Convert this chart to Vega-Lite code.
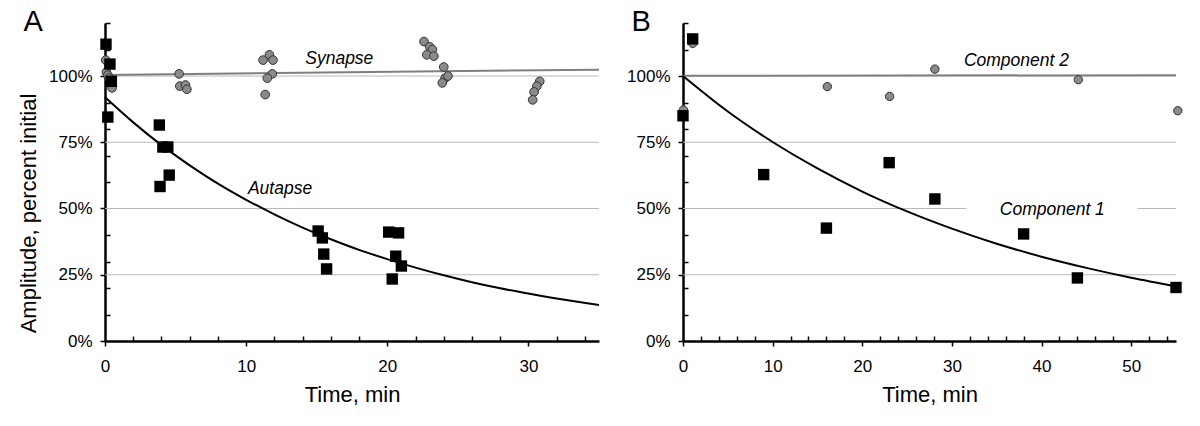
{
  "$schema": "https://vega.github.io/schema/vega-lite/v6.json",
  "background": "white",
  "padding": {"left": 17, "top": 8, "right": 20, "bottom": 10},
  "spacing": 23,
  "config": {
    "view": {"stroke": null},
    "font": "Liberation Sans",
    "axis": {
      "domainColor": "black", "domainWidth": 2.5, "tickColor": "black", "tickWidth": 1.5,
      "labelColor": "black", "titleColor": "black", "labelFont": "Liberation Sans", "titleFont": "Liberation Sans",
      "labelFontSize": 17, "titleFontSize": 22, "titleFontWeight": "normal",
      "labelOverlap": false, "labelFlush": false, "labelBound": false, "grid": false
    },
    "title": {"font": "Liberation Sans", "fontSize": 29, "fontWeight": "normal", "color": "black", "anchor": "start", "frame": "bounds", "baseline": "alphabetic", "offset": -23}
  },
  "datasets": {
    "aSyn": [
      {"t": 0.05, "amp": 106}, {"t": 0.1, "amp": 101.5}, {"t": 0.2, "amp": 100.3}, {"t": 0.3, "amp": 99.2}, {"t": 0.4, "amp": 97.7}, {"t": 0.5, "amp": 95.5},
      {"t": 5.25, "amp": 100.8}, {"t": 5.3, "amp": 96.2}, {"t": 5.7, "amp": 96.6}, {"t": 5.8, "amp": 95},
      {"t": 11.2, "amp": 106}, {"t": 11.65, "amp": 108}, {"t": 11.9, "amp": 106}, {"t": 11.85, "amp": 100.8}, {"t": 11.5, "amp": 99.2}, {"t": 11.35, "amp": 93},
      {"t": 22.6, "amp": 113}, {"t": 23.0, "amp": 111}, {"t": 23.2, "amp": 110}, {"t": 22.8, "amp": 108}, {"t": 23.3, "amp": 107.5},
      {"t": 24.0, "amp": 103.4}, {"t": 24.1, "amp": 99.2}, {"t": 24.3, "amp": 100}, {"t": 23.9, "amp": 97.4},
      {"t": 30.8, "amp": 98}, {"t": 30.6, "amp": 96.2}, {"t": 30.4, "amp": 94}, {"t": 30.3, "amp": 91}
    ],
    "aAut": [
      {"t": 0.07, "amp": 112}, {"t": 0.35, "amp": 104.5}, {"t": 0.45, "amp": 98}, {"t": 0.2, "amp": 84.5},
      {"t": 3.85, "amp": 81.5}, {"t": 4.1, "amp": 73.2}, {"t": 4.45, "amp": 73.2}, {"t": 4.55, "amp": 62.6}, {"t": 3.9, "amp": 58.3},
      {"t": 15.1, "amp": 41.5}, {"t": 15.4, "amp": 38.9}, {"t": 15.5, "amp": 32.8}, {"t": 15.7, "amp": 27.2},
      {"t": 20.1, "amp": 41.1}, {"t": 20.8, "amp": 40.8}, {"t": 20.6, "amp": 32}, {"t": 21.0, "amp": 28.3}, {"t": 20.35, "amp": 23.4}
    ],
    "aSynFit": [{"t": 0, "amp": 100.4}, {"t": 35, "amp": 102.4}],
    "aAutFit": [
      {"t": 0, "amp": 92}, {"t": 2, "amp": 82.5}, {"t": 4, "amp": 73.9}, {"t": 6, "amp": 66.3}, {"t": 8, "amp": 59.4},
      {"t": 10, "amp": 53.3}, {"t": 12, "amp": 47.8}, {"t": 14, "amp": 42.8}, {"t": 16, "amp": 38.4}, {"t": 18, "amp": 34.4},
      {"t": 20, "amp": 30.9}, {"t": 22, "amp": 27.7}, {"t": 24, "amp": 24.8}, {"t": 26, "amp": 22.2}, {"t": 28, "amp": 19.9},
      {"t": 30, "amp": 17.9}, {"t": 32, "amp": 16.0}, {"t": 35, "amp": 13.6}
    ],
    "aGrid": [
      {"t": 0, "t2": 35, "amp": 25}, {"t": 0, "t2": 35, "amp": 50}, {"t": 0, "t2": 35, "amp": 75}, {"t": 0, "t2": 35, "amp": 100}
    ],
    "aText": [
      {"t": 16.6, "amp": 106.4, "label": "Synapse"},
      {"t": 12.4, "amp": 57.4, "label": "Autapse"}
    ],
    "bC2": [
      {"t": 0.05, "amp": 87.2}, {"t": 1.08, "amp": 112.3}, {"t": 16.1, "amp": 96}, {"t": 23.05, "amp": 92.3},
      {"t": 28.1, "amp": 102.6}, {"t": 44.1, "amp": 98.6}, {"t": 55.2, "amp": 86.9}
    ],
    "bC1": [
      {"t": 0, "amp": 85}, {"t": 1.08, "amp": 114}, {"t": 9, "amp": 62.8}, {"t": 16, "amp": 42.6}, {"t": 23, "amp": 67.3},
      {"t": 28.1, "amp": 53.6}, {"t": 38, "amp": 40.4}, {"t": 44, "amp": 23.8}, {"t": 55, "amp": 20.2}
    ],
    "bC2Fit": [{"t": 0, "amp": 100.1}, {"t": 55, "amp": 100.3}],
    "bC1Fit": [
      {"t": 0, "amp": 100}, {"t": 5, "amp": 86.6}, {"t": 10, "amp": 75.1}, {"t": 15, "amp": 65.1}, {"t": 20, "amp": 56.4},
      {"t": 25, "amp": 48.9}, {"t": 30, "amp": 42.4}, {"t": 35, "amp": 36.7}, {"t": 40, "amp": 31.8}, {"t": 45, "amp": 27.6},
      {"t": 50, "amp": 23.9}, {"t": 55, "amp": 20.7}
    ],
    "bGrid": [
      {"t": 0, "t2": 55, "amp": 25}, {"t": 0, "t2": 31.6, "amp": 50}, {"t": 50.7, "t2": 55, "amp": 50},
      {"t": 0, "t2": 55, "amp": 75}, {"t": 0, "t2": 55, "amp": 100}
    ],
    "bText": [
      {"t": 37.2, "amp": 105.8, "label": "Component 2"},
      {"t": 41.2, "amp": 49.6, "label": "Component 1"}
    ]
  },
  "hconcat": [
    {
      "width": 494, "height": 318,
      "title": {"text": "A", "dx": 6},
      "encoding": {
        "x": {"field": "t", "type": "quantitative", "scale": {"domain": [0, 35], "nice": false},
          "axis": {"title": "Time, min", "values": [0,2,4,6,8,10,12,14,16,18,20,22,24,26,28,30,32,34],
            "labelExpr": "datum.value % 10 === 0 ? datum.label : ''",
            "tickSize": {"condition": {"test": "datum.value % 10 === 0", "value": 5}, "value": -5},
            "labelPadding": 12, "titlePadding": 10}},
        "y": {"field": "amp", "type": "quantitative", "scale": {"domain": [0, 120], "nice": false},
          "axis": {"title": "Amplitude, percent initial", "values": [0,10,20,25,30,40,50,60,70,75,80,90,100,110,120],
            "labelExpr": "datum.value % 25 === 0 && datum.value <= 100 ? datum.value + '%' : ''",
            "tickSize": {"condition": {"test": "datum.value % 25 === 0", "value": 5}, "value": -5},
            "labelPadding": 8, "titlePadding": 8, "titleY": 190}}
      },
      "layer": [
        {"data": {"name": "aGrid"}, "mark": {"type": "rule", "color": "#b8b8b8", "strokeWidth": 1}, "encoding": {"x2": {"field": "t2"}}},
        {"data": {"name": "aSynFit"}, "mark": {"type": "line", "color": "#7f7f7f", "strokeWidth": 2}, "encoding": {}},
        {"data": {"name": "aAutFit"}, "mark": {"type": "line", "color": "black", "strokeWidth": 2, "interpolate": "monotone"}, "encoding": {}},
        {"data": {"name": "aSyn"}, "mark": {"type": "point", "shape": "circle", "filled": true, "fill": "#8a8a8a", "stroke": "#333333", "strokeWidth": 1, "size": 75, "opacity": 1}},
        {"data": {"name": "aAut"}, "mark": {"type": "square", "color": "black", "size": 130, "opacity": 1}},
        {"data": {"name": "aText"}, "mark": {"type": "text", "fontStyle": "italic", "fontSize": 17.5, "color": "black", "align": "center", "baseline": "middle"}, "encoding": {"text": {"field": "label"}}}
      ]
    },
    {
      "width": 493, "height": 318,
      "title": {"text": "B", "dx": 5},
      "encoding": {
        "x": {"field": "t", "type": "quantitative", "scale": {"domain": [0, 55], "nice": false},
          "axis": {"title": "Time, min", "values": [0,2,4,6,8,10,12,14,16,18,20,22,24,26,28,30,32,34,36,38,40,42,44,46,48,50,52,54],
            "labelExpr": "datum.value % 10 === 0 ? datum.label : ''",
            "tickSize": {"condition": {"test": "datum.value % 10 === 0", "value": 5}, "value": -5},
            "labelPadding": 12, "titlePadding": 10}},
        "y": {"field": "amp", "type": "quantitative", "scale": {"domain": [0, 120], "nice": false},
          "axis": {"title": null, "values": [0,10,20,25,30,40,50,60,70,75,80,90,100,110,120],
            "labelExpr": "datum.value % 25 === 0 && datum.value <= 100 ? datum.value + '%' : ''",
            "tickSize": {"condition": {"test": "datum.value % 25 === 0", "value": 5}, "value": -5},
            "labelPadding": 8}}
      },
      "layer": [
        {"data": {"name": "bGrid"}, "mark": {"type": "rule", "color": "#b8b8b8", "strokeWidth": 1}, "encoding": {"x2": {"field": "t2"}}},
        {"data": {"name": "bC2Fit"}, "mark": {"type": "line", "color": "#7f7f7f", "strokeWidth": 2}, "encoding": {}},
        {"data": {"name": "bC1Fit"}, "mark": {"type": "line", "color": "black", "strokeWidth": 2, "interpolate": "monotone"}, "encoding": {}},
        {"data": {"name": "bC2"}, "mark": {"type": "point", "shape": "circle", "filled": true, "fill": "#8a8a8a", "stroke": "#333333", "strokeWidth": 1, "size": 70, "opacity": 1}},
        {"data": {"name": "bC1"}, "mark": {"type": "square", "color": "black", "size": 130, "opacity": 1}},
        {"data": {"name": "bText"}, "mark": {"type": "text", "fontStyle": "italic", "fontSize": 17.5, "color": "black", "align": "center", "baseline": "middle"}, "encoding": {"text": {"field": "label"}}}
      ]
    }
  ]
}
